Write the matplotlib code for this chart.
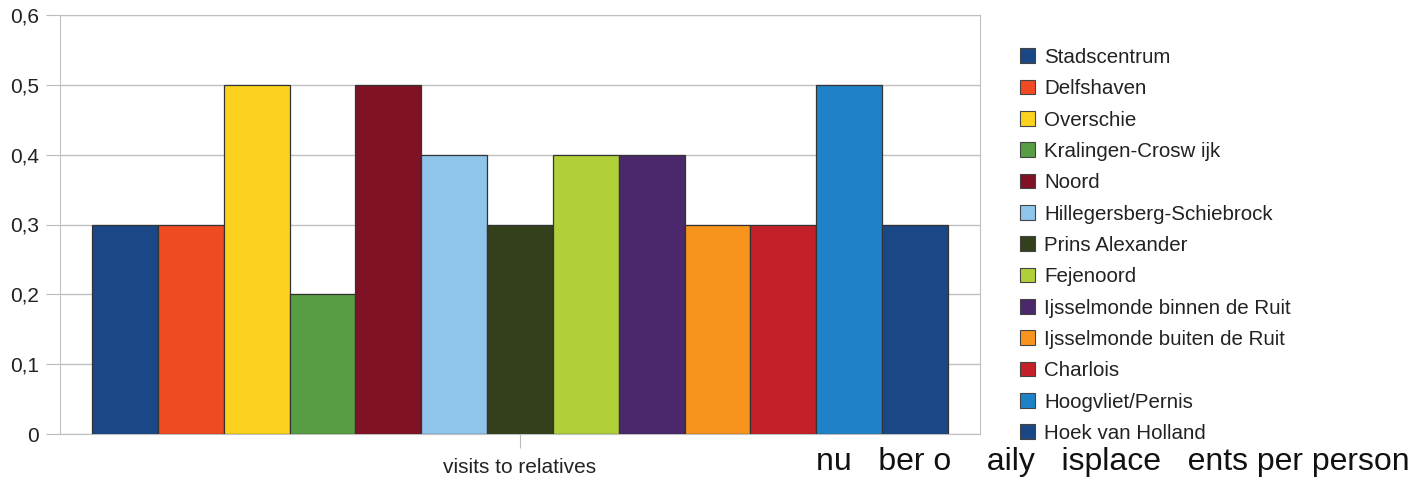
import numpy as np
import matplotlib
matplotlib.use('Agg')
import matplotlib.pyplot as plt
from matplotlib.patches import Patch

plt.rcParams['font.family'] = ['Liberation Sans', 'DejaVu Sans']

# data
districts = ['Stadscentrum', 'Delfshaven', 'Overschie', 'Kralingen-Crosw ijk',
             'Noord', 'Hillegersberg-Schiebrock', 'Prins Alexander',
             'Fejenoord', 'Ijsselmonde binnen de Ruit',
             'Ijsselmonde buiten de Ruit', 'Charlois', 'Hoogvliet/Pernis',
             'Hoek van Holland']
values = [0.3, 0.3, 0.5, 0.2, 0.5, 0.4, 0.3, 0.4, 0.4, 0.3, 0.3, 0.5, 0.3]
category = 'visits to relatives'
yticks = [0, 0.1, 0.2, 0.3, 0.4, 0.5, 0.6]
ytick_labels = ['0', '0,1', '0,2', '0,3', '0,4', '0,5', '0,6']
colors = ['#1a4886', '#f04a23', '#fdd21f', '#579d43', '#7f1224', '#8fc4eb',
          '#33401b', '#b0cf38', '#4b286b', '#f7941d', '#c4202a', '#1f82c8',
          '#1a4886']

W, H = 1415, 483
fig = plt.figure(figsize=(W / 100, H / 100), dpi=100)
ax = fig.add_axes([60 / W, (H - 434) / H, 920 / W, 419 / H])

n = len(values)
group_w = 856 / 920
bw = group_w / n
xs = -group_w / 2 + bw * (np.arange(n) + 0.5)
ax.bar(xs, values, width=bw, color=colors, edgecolor='#333333',
       linewidth=0.9, zorder=3)

ax.set_xlim(-0.5, 0.5)
ax.set_ylim(0, 0.6)
ax.set_yticks(yticks)
ax.set_yticklabels(ytick_labels, fontsize=15, color='#222222')
ax.set_xticks([0])
ax.set_xticklabels([category], fontsize=15, color='#222222')
ax.tick_params(axis='y', length=10, color='#bbbbbb', pad=5)
ax.tick_params(axis='x', length=10, color='#bbbbbb', pad=7)
ax.yaxis.grid(True, color='#c0c0c0', linewidth=1, zorder=0)
for s in ax.spines.values():
    s.set_color('#c0c0c0')

handles = [Patch(facecolor=c, edgecolor='#444444', linewidth=0.8) for c in colors]
fig.legend(handles, districts, loc='upper left',
           bbox_to_anchor=(1020 / W, 1 - 48 / H), frameon=False,
           fontsize=14.8, handlelength=0.72, handleheight=0.72,
           handletextpad=0.45, labelspacing=0.6, borderaxespad=0,
           borderpad=0, labelcolor='#222222')

fig.text(1410 / W, 1 - 462 / H, 'nu   ber o    aily   isplace   ents per person',
         fontsize=23, ha='right', va='center', color='#111111')

fig.savefig('out.png', dpi=100)
